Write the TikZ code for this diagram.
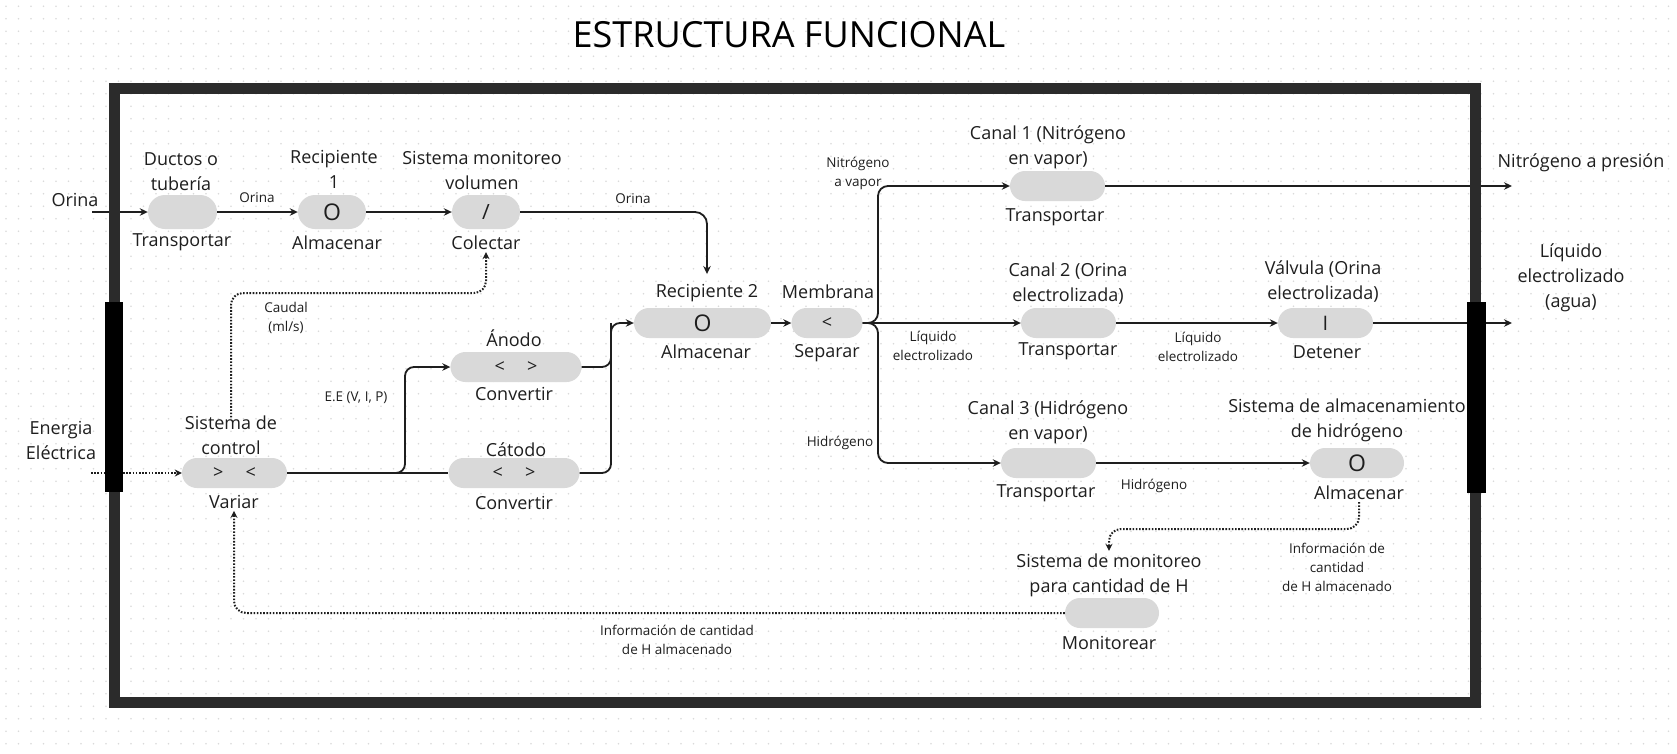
\documentclass[tikz,border=0pt]{standalone}
\usepackage{fontspec}
\setmainfont{Open Sans}
\usetikzlibrary{shapes.misc,arrows.meta,calc}
\definecolor{pill}{HTML}{D9D9D9}
\definecolor{txt}{HTML}{1E1E1E}
\definecolor{frm}{HTML}{2B2B2B}
\definecolor{gridc}{HTML}{DADADA}
\tikzset{
  pillnode/.style={rounded rectangle, fill=pill, draw=none, inner sep=0pt, text=txt, font=\fontsize{18}{20}\selectfont},
  lbl/.style={align=center, inner sep=0pt, text=txt, font=\fontsize{18}{25}\selectfont},
  sml/.style={align=center, inner sep=0pt, text=txt, font=\fontsize{13.5}{19}\selectfont},
  conn/.style={line width=1.8pt, draw=txt},
  arr/.style={conn, -{Stealth[length=8pt,width=7.5pt]}},
  dotl/.style={line width=2pt, dash pattern=on 1.6pt off 1.6pt, draw=txt},
  dotarr/.style={dotl, -{Stealth[length=7pt,width=7pt]}},
  bgdot/.style={line width=1.8pt, dash pattern=on 0pt off 12.5pt, line cap=round, draw=gridc},
  frame/.style={line width=11pt, draw=frm},
}
\begin{document}
\begin{tikzpicture}[x=1pt,y=-1pt]
\useasboundingbox (0,0) rectangle (1677,753);
\fill[white] (0,0) rectangle (1677,753);
\foreach \yy in {6.25,18.75,...,753} \draw[bgdot] (6,\yy) -- (1677,\yy);

% title
\node[text=black, font=\fontsize{36}{40}\selectfont, inner sep=0pt] (title) at (789,35) {ESTRUCTURA FUNCIONAL};

% pills
\node[pillnode, minimum width=69pt, minimum height=34pt] (ductos) at (182.5,212) {};
\node[pillnode, minimum width=68pt, minimum height=34pt, font=\fontsize{23}{24}\selectfont] (rec1) at (332,212) {O};
\node[pillnode, minimum width=68pt, minimum height=34pt, font=\fontsize{21}{22}\selectfont] (colect) at (486,212) {/};
\node[pillnode, minimum width=137pt, minimum height=30pt, font=\fontsize{23}{24}\selectfont] (rec2) at (702.5,323) {O};
\node[pillnode, minimum width=71pt, minimum height=30pt] (memb) at (827,323) {<};
\node[pillnode, minimum width=95pt, minimum height=30pt] (canal1) at (1057.5,186) {};
\node[pillnode, minimum width=95pt, minimum height=30pt] (canal2) at (1068.5,323) {};
\node[pillnode, minimum width=95pt, minimum height=30pt, font=\fontsize{20}{22}\selectfont] (valv) at (1325.5,323) {I};
\node[pillnode, minimum width=95pt, minimum height=30pt] (canal3) at (1048.5,463) {};
\node[pillnode, minimum width=94pt, minimum height=30pt, font=\fontsize{23}{24}\selectfont] (almH) at (1357,463) {O};
\node[pillnode, minimum width=94pt, minimum height=30pt] (monit) at (1112,613) {};
\node[pillnode, minimum width=105pt, minimum height=30pt] (ctrl) at (234.5,473) {>\hspace{22pt}<};
\node[pillnode, minimum width=131pt, minimum height=30pt] (anodo) at (516,367) {<\hspace{22pt}>};
\node[pillnode, minimum width=131pt, minimum height=30pt] (catodo) at (514,473) {<\hspace{22pt}>};

% top labels
\node[lbl] (ductosT) at (181,171.5) {Ductos o\\tubería};
\node[lbl] (rec1T) at (334,169) {Recipiente\\1};
\node[lbl] (colectT) at (482,170.5) {Sistema monitoreo\\volumen};
\node[lbl] (rec2T) at (707,293) {Recipiente 2};
\node[lbl] (membT) at (828,292) {Membrana};
\node[lbl] (canal1T) at (1048,147.5) {Canal 1 (Nitrógeno\\en vapor)};
\node[lbl] (canal2T) at (1068,283.5) {Canal 2 (Orina\\electrolizada)};
\node[lbl] (valvT) at (1323,281.5) {Válvula (Orina\\electrolizada)};
\node[lbl] (canal3T) at (1048,422) {Canal 3 (Hidrógeno\\en vapor)};
\node[lbl] (almHT) at (1347,420.5) {Sistema de almacenamiento\\de hidrógeno};
\node[lbl] (monitT) at (1109,575.5) {Sistema de monitoreo\\para cantidad de H};
\node[lbl] (ctrlT) at (231,435) {Sistema de\\control};
\node[lbl] (anodoT) at (514,338) {Ánodo};
\node[lbl] (catodoT) at (516,450) {Cátodo};

% bottom labels
\node[lbl] (ductosB) at (182,242) {Transportar};
\node[lbl] (rec1B) at (337,243) {Almacenar};
\node[lbl] (colectB) at (486,243) {Colectar};
\node[lbl] (rec2B) at (706,352) {Almacenar};
\node[lbl] (membB) at (827,353) {Separar};
\node[lbl] (canal1B) at (1055,217) {Transportar};
\node[lbl] (canal2B) at (1068,351) {Transportar};
\node[lbl] (valvB) at (1327,352) {Detener};
\node[lbl] (canal3B) at (1046,493) {Transportar};
\node[lbl] (almHB) at (1359,493) {Almacenar};
\node[lbl] (monitB) at (1109,643) {Monitorear};
\node[lbl] (ctrlB) at (234,502) {Variar};
\node[lbl] (anodoB) at (514,394) {Convertir};
\node[lbl] (catodoB) at (514,503) {Convertir};

% external labels
\node[lbl] (orinaIn) at (75,200) {Orina};
\node[lbl] (energia) at (61,440.5) {Energia\\Eléctrica};
\node[lbl] (nitroOut) at (1581,163) {Nitrógeno a presión};
\node[lbl] (liqOut) at (1571,278) {Líquido\\electrolizado\\(agua)};

% small labels
\node[sml] (l1) at (257,198) {Orina};
\node[sml] (l2) at (633,199) {Orina};
\node[sml] (l3) at (286,318) {Caudal\\(ml/s)};
\node[sml] (l4) at (858,173.5) {Nitrógeno\\a vapor};
\node[sml] (l5) at (356,398) {E.E (V, I, P)};
\node[sml] (l6) at (933,345.5) {Líquido\\electrolizado};
\node[sml] (l7) at (1198,346.5) {Líquido\\electrolizado};
\node[sml] (l8) at (840,443) {Hidrógeno};
\node[sml] (l9) at (1154,486) {Hidrógeno};
\node[sml] (l10) at (1337,567) {Información de\\cantidad\\de H almacenado};
\node[sml] (l11) at (677,640) {Información de cantidad\\de H almacenado};

% coordinates
\coordinate (inO) at (92,212);
\coordinate (inE) at (91,473);
\coordinate (outN) at (1512,186);
\coordinate (outL) at (1512,323);
\coordinate (brU) at (878,186);
\coordinate (brD) at (878,463);
\coordinate (jn) at (611,323);
\coordinate (eeU) at (405,367);
\coordinate (cauR) at (486,293);
\coordinate (hz) at (1109,529);

% connectors
\draw[arr] (inO) -- (ductos.west);
\draw[arr] (ductos.east) -- (rec1.west);
\draw[arr] (rec1.east) -- (colect.west);
\draw[arr, rounded corners=12pt] (colect.east) -| ([yshift=10pt]rec2T.north);
\draw[arr] (rec2.east) -- (memb.west);
\draw[arr, rounded corners=10pt] (memb.east) -| (brU) -- (canal1.west);
\draw[arr] (memb.east) -- (canal2.west);
\draw[arr, rounded corners=10pt] (memb.east) -| (brD) -- (canal3.west);
\draw[arr] (canal1.east) -- (outN);
\draw[arr] (canal2.east) -- (valv.west);
\draw[arr] (valv.east) -- (outL);
\draw[arr] (canal3.east) -- (almH.west);
\draw[arr, rounded corners=9pt] (ctrl.east) -| (eeU) -- (anodo.west);
\draw[conn] (ctrl.east) -- (catodo.west);
\draw[arr, rounded corners=9pt] (anodo.east) -| (jn) -- (rec2.west);
\draw[conn, rounded corners=9pt] (catodo.east) -| (jn);
\draw[dotarr] (inE) -- (ctrl.west);
\draw[dotarr, rounded corners=12pt] ([yshift=-2pt]ctrlT.north) |- (cauR) -- ([yshift=-2pt]colectB.south);
\draw[dotarr, rounded corners=12pt] ([yshift=-2pt]almHB.south) |- (hz) -- ([yshift=3pt]monitT.north);
\draw[dotarr, rounded corners=12pt] (monit.west) -| ([yshift=-2pt]ctrlB.south);

% frame
\draw[frame] (114,88) rectangle (1475,702);
\fill[black] (105,302) rectangle (123,492);
\fill[black] (1467,302) rectangle (1486,493);
\end{tikzpicture}
\end{document}
